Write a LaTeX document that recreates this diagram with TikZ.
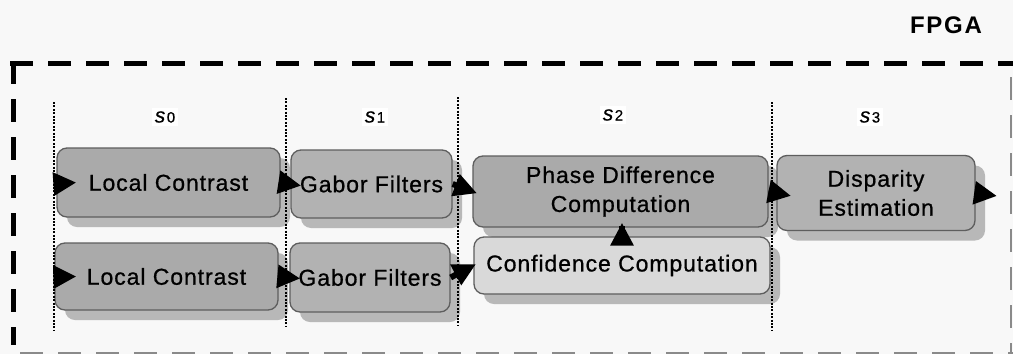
\documentclass[tikz,border=0pt]{standalone}
\usepackage{fontspec}
\setmainfont{Liberation Sans}
\newfontfamily\lbl[LetterSpace=4,FakeBold=0.8]{Liberation Sans}
\newfontfamily\stf[FakeBold=0.6]{Liberation Sans}
\newfontfamily\ttl[LetterSpace=7]{Liberation Sans}
\usetikzlibrary{arrows.meta,shadows}
\definecolor{bgc}{HTML}{F8F8F8}
\definecolor{boxdark}{HTML}{AAAAAA}
\definecolor{boxmid}{HTML}{B2B2B2}
\definecolor{boxlight}{HTML}{D9D9D9}
\definecolor{shadowc}{HTML}{B8B8B8}
\definecolor{borderc}{HTML}{5E5E5E}
\definecolor{framegray}{HTML}{8A8A8A}
\tikzset{
  stagebox/.style={draw=borderc, line width=1.3pt, rounded corners=10pt,
    inner sep=0pt, align=center,
    font=\lbl\fontsize{23}{29}\selectfont,
    drop shadow={shadow xshift=10pt, shadow yshift=-10pt, fill=shadowc, draw=none, opacity=1}},
  arr/.style={line width=6pt, -{Triangle[length=23pt,width=22pt]}},
  sepline/.style={line width=2pt, dash pattern=on 2pt off 1.4pt},
  stlabel/.style={fill=white, inner sep=3pt},
  frametop/.style={line width=5pt, dash pattern=on 23pt off 15pt},
  frameside/.style={line width=2.5pt, framegray, dash pattern=on 23pt off 15pt}
}
\newcommand{\stg}[1]{{\stf\fontsize{21}{21}\selectfont\itshape s}\kern1.5pt{\stf\fontsize{15}{15}\selectfont #1}}
\begin{document}
\begin{tikzpicture}[x=1pt,y=-1pt]
  % background
  \fill[bgc] (0,0) rectangle (1013,354);
  \useasboundingbox (0,0) rectangle (1013,354);
  % FPGA frame
  \draw[frametop] (10,63) -- (1013,63);
  \draw[frametop] (13,61) -- (13,345);
  \draw[frameside] (1011,77) -- (1011,354);
  \draw[frameside] (20,353) -- (1013,353);
  \node[font=\ttl\bfseries\fontsize{24}{24}\selectfont] (fpga) at (946,25) {FPGA};

  % boxes
  \node[stagebox, fill=boxdark, minimum width=223pt, minimum height=69pt] (lc1) at (168.5,182.5) {Local Contrast};
  \node[stagebox, fill=boxmid,  minimum width=161pt, minimum height=68pt] (gf1) at (371.5,184) {Gabor Filters};
  \node[stagebox, fill=boxdark, minimum width=295pt, minimum height=71pt] (pd)  at (620.5,191.5) {Phase Difference\\Computation};
  \node[stagebox, fill=boxmid,  minimum width=198pt, minimum height=75pt] (de)  at (876,193) {Disparity\\Estimation};
  \node[stagebox, fill=boxdark, minimum width=223pt, minimum height=67pt] (lc2) at (166.5,276.5) {Local Contrast};
  \node[stagebox, fill=boxmid,  minimum width=160pt, minimum height=69pt] (gf2) at (370,277.5) {Gabor Filters};
  \node[stagebox, fill=boxlight, minimum width=296pt, minimum height=57pt] (cc) at (622,265.5) {Confidence Computation};

  % stage separators
  \draw[sepline] (54,102) -- (54,330);
  \draw[sepline] (286,98) -- (286,327);
  \draw[sepline] (458,97) -- (458,325);
  \draw[sepline] (772,102) -- (772,330);

  % stage labels
  \node[stlabel] (s0) at (165,117) {\stg{0}};
  \node[stlabel] (s1) at (375,117) {\stg{1}};
  \node[stlabel] (s2) at (613,115) {\stg{2}};
  \node[stlabel] (s3) at (870,117) {\stg{3}};

  % connectors
  \coordinate (in1) at (54,184);
  \coordinate (in2) at (54,277);
  \coordinate (out) at (997,196);
  \draw[arr] (in1) -- ([xshift=20pt]lc1.west);
  \draw[arr] (in2) -- ([xshift=22pt]lc2.west);
  \draw[arr, shorten >=-11pt] (lc1.east) -- (gf1.west);
  \draw[arr, shorten >=-11pt] (lc2.east) -- (gf2.west);
  \draw[arr, shorten >=-5pt] (gf1.east) -- (pd.west);
  \draw[arr, shorten >=-3pt] (gf2.east) -- (cc.west);
  \draw[arr, shorten <=-10pt, shorten >=-5pt] (cc.north) -- (cc.north |- pd.south);
  \draw[arr, shorten >=-15pt] (pd.east) -- (de.west);
  \draw[arr] (de.east) -- (out);
\end{tikzpicture}
\end{document}
